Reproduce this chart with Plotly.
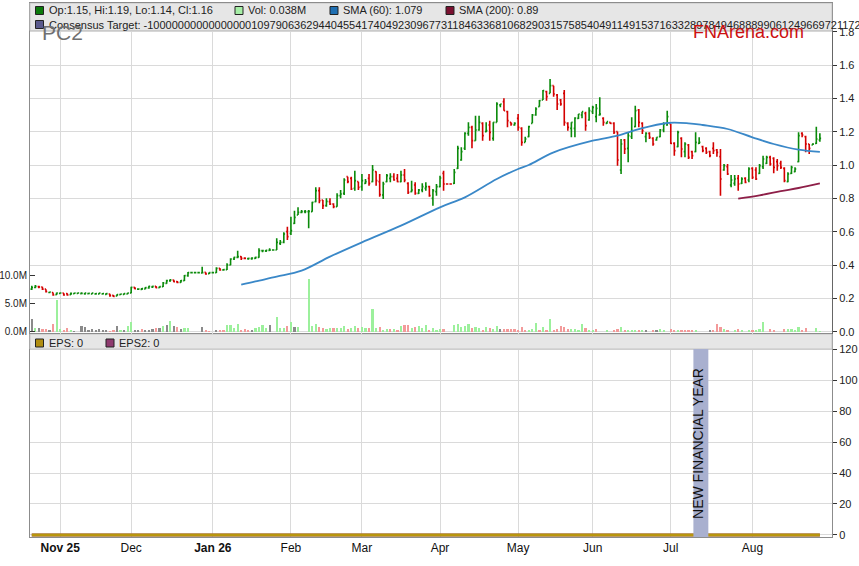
import pandas as pd
import plotly.graph_objects as go

# trading calendar shown on the chart (weekdays, holidays kept as flat bars)
dates = pd.bdate_range("2025-10-22", "2026-08-28")

opens = [
    .255, .265, .27, .268, .255, .235, .235, .222, .23, .232, .228, .222, .228, .23, .228, .228, .228, .226, .226, .226,
    .226, .224, .226, .218, .214, .222, .224, .226, .232, .266, .255, .254, .256, .262, .268, .272, .264, .27, .29, .305,
    .31, .30, .296, .306, .336, .354, .354, .354, .352, .356, .348, .354, .354, .38, .37, .372, .40, .436, .446, .45,
    .44, .438, .438, .44, .446, .486, .484, .488, .49, .49, .53, .536, .60, .59, .65, .70, .716, .72, .72, .72,
    .78, .846, .79, .756, .78, .766, .75, .816, .83, .93, .92, .86, .90, .87, .89, .92, .90, .96, .90, .82,
    .90, .92, .93, .92, .90, .94, .89, .84, .88, .83, .85, .86, .87, .80, .84, .87, .95, .886, .886, .89,
    .98, 1.03, 1.10, 1.19, 1.226, 1.146, 1.21, 1.25, 1.20, 1.24, 1.16, 1.256, 1.36, 1.38, 1.32, 1.256, 1.24, 1.28, 1.22, 1.136,
    1.17, 1.25, 1.30, 1.35, 1.39, 1.44, 1.43, 1.476, 1.42, 1.39, 1.43, 1.25, 1.22, 1.22, 1.28, 1.30, 1.31, 1.27, 1.32, 1.29,
    1.30, 1.28, 1.25, 1.256, 1.25, 1.20, .97, 1.15, 1.10, 1.17, 1.23, 1.33, 1.25, 1.17, 1.19, 1.16, 1.15, 1.17, 1.21, 1.24,
    1.246, 1.13, 1.11, 1.16, 1.08, 1.12, 1.08, 1.08, 1.13, 1.11, 1.10, 1.08, 1.10, 1.09, 1.05, .97, .99, .88, .89, .92,
    .89, .92, .91, .98, .97, .95, .99, 1.01, 1.046, 1.04, 1.02, 1.01, .98, .90, .95, .96, 1.02, 1.19, 1.17, 1.126,
    1.12, 1.13, 1.15,
]
highs = [
    .275, .28, .275, .27, .255, .24, .235, .235, .235, .232, .23, .235, .234, .234, .236, .234, .232, .234, .232, .234,
    .232, .232, .228, .22, .224, .228, .23, .234, .27, .268, .26, .262, .268, .275, .276, .274, .272, .298, .312, .316,
    .312, .304, .31, .34, .358, .356, .354, .354, .39, .356, .356, .354, .386, .382, .376, .41, .44, .45, .486, .452,
    .446, .444, .446, .45, .50, .49, .492, .50, .49, .56, .55, .596, .63, .69, .726, .746, .73, .73, .73, .78,
    .866, .866, .79, .80, .80, .77, .83, .85, .92, .93, .93, .966, .90, .946, .916, .946, 1.0, .962, .946, .90,
    .946, .95, .95, .946, .966, .976, .896, .906, .896, .856, .89, .896, .876, .856, .886, .936, .966, .886, .886, .976,
    1.116, 1.106, 1.196, 1.256, 1.236, 1.296, 1.296, 1.256, 1.256, 1.266, 1.256, 1.376, 1.366, 1.40, 1.326, 1.256, 1.256, 1.306, 1.226, 1.17,
    1.236, 1.306, 1.346, 1.39, 1.45, 1.446, 1.516, 1.476, 1.426, 1.396, 1.45, 1.256, 1.256, 1.286, 1.306, 1.32, 1.32, 1.346, 1.356, 1.366,
    1.406, 1.286, 1.26, 1.256, 1.256, 1.20, 1.156, 1.156, 1.196, 1.286, 1.356, 1.336, 1.256, 1.196, 1.196, 1.166, 1.166, 1.216, 1.256, 1.326,
    1.246, 1.136, 1.206, 1.166, 1.136, 1.126, 1.086, 1.196, 1.166, 1.116, 1.106, 1.086, 1.136, 1.096, 1.096, 1.006, 1.006, .94, .94, .94,
    .926, .926, .986, .986, .986, 1.006, 1.056, 1.056, 1.056, 1.046, 1.036, 1.026, .986, .956, .996, .986, 1.196, 1.196, 1.176, 1.126,
    1.13, 1.23, 1.19,
]
lows = [
    .25, .26, .26, .25, .235, .23, .215, .22, .228, .215, .215, .22, .226, .228, .226, .222, .226, .224, .222, .224,
    .224, .222, .21, .208, .212, .22, .222, .224, .23, .255, .25, .25, .254, .258, .262, .26, .262, .268, .288, .30,
    .296, .29, .294, .304, .33, .35, .354, .354, .352, .342, .346, .354, .352, .366, .366, .37, .398, .43, .44, .43,
    .434, .432, .432, .436, .444, .476, .478, .484, .49, .49, .52, .53, .55, .58, .646, .70, .71, .71, .62, .72,
    .776, .77, .736, .75, .76, .74, .75, .80, .82, .89, .85, .846, .85, .846, .886, .876, .896, .876, .81, .796,
    .896, .896, .906, .896, .896, .896, .826, .836, .822, .826, .836, .846, .81, .756, .816, .866, .846, .886, .886, .886,
    .976, 1.026, 1.09, 1.176, 1.10, 1.146, 1.206, 1.146, 1.196, 1.146, 1.146, 1.256, 1.346, 1.326, 1.226, 1.236, 1.236, 1.206, 1.116, 1.136,
    1.166, 1.25, 1.296, 1.35, 1.39, 1.386, 1.43, 1.41, 1.33, 1.356, 1.236, 1.206, 1.166, 1.166, 1.276, 1.28, 1.206, 1.266, 1.306, 1.256,
    1.296, 1.236, 1.246, 1.246, 1.186, .996, .946, 1.066, 1.016, 1.156, 1.226, 1.226, 1.186, 1.136, 1.156, 1.116, 1.146, 1.166, 1.196, 1.236,
    1.126, 1.056, 1.106, 1.046, 1.046, 1.036, 1.036, 1.076, 1.126, 1.076, 1.066, 1.046, 1.066, 1.05, .816, .966, .94, .866, .876, .846,
    .886, .89, .896, .916, .91, .946, .976, 1.006, .996, .95, .966, .976, .896, .896, .946, .956, 1.016, 1.166, 1.076, 1.066,
    1.12, 1.126, 1.14,
]
closes = [
    .265, .272, .268, .255, .24, .238, .22, .232, .232, .22, .22, .23, .232, .232, .23, .232, .23, .232, .228, .232,
    .228, .228, .216, .212, .222, .226, .228, .232, .266, .258, .256, .258, .264, .272, .272, .264, .27, .292, .306, .31,
    .30, .295, .306, .336, .354, .354, .354, .354, .354, .346, .354, .354, .38, .37, .372, .40, .436, .446, .45, .44,
    .44, .44, .442, .446, .486, .486, .488, .49, .49, .536, .536, .586, .57, .606, .686, .716, .72, .72, .722, .776,
    .846, .786, .756, .782, .766, .75, .816, .826, .91, .90, .856, .906, .866, .906, .90, .89, .97, .906, .822, .886,
    .936, .93, .91, .90, .94, .91, .836, .85, .83, .85, .87, .87, .816, .846, .87, .922, .886, .886, .886, .956,
    1.10, 1.08, 1.19, 1.226, 1.146, 1.21, 1.256, 1.176, 1.206, 1.196, 1.256, 1.366, 1.366, 1.326, 1.266, 1.246, 1.25, 1.226, 1.136, 1.156,
    1.23, 1.30, 1.336, 1.386, 1.446, 1.41, 1.476, 1.426, 1.366, 1.366, 1.256, 1.226, 1.256, 1.282, 1.306, 1.32, 1.236, 1.326, 1.346, 1.34,
    1.306, 1.256, 1.26, 1.25, 1.196, 1.03, 1.126, 1.096, 1.176, 1.206, 1.326, 1.256, 1.206, 1.19, 1.166, 1.126, 1.166, 1.21, 1.246, 1.29,
    1.13, 1.086, 1.196, 1.096, 1.126, 1.046, 1.056, 1.136, 1.136, 1.086, 1.076, 1.056, 1.086, 1.076, .916, .996, .946, .91, .916, .886,
    .916, .896, .976, .926, .916, .996, 1.036, 1.046, 1.006, .986, .996, .986, .906, .946, .986, .976, 1.176, 1.18, 1.126, 1.10,
    1.126, 1.156, 1.16,
]

# volume in millions
volume_m = [
    2.3, .73, .6, .48, .48, .24, 1.4, 5.75, .48, .18, .73, .3, .12, 0, 1.1, .9, .36, .42, .24, .48,
    .18, .36, .12, .18, 1.1, .3, .36, 1.1, 1.7, .3, .36, .48, .3, .36, .48, .6, .6, .97, 1.2, 1.95,
    1.1, .85, .48, .73, .73, 0, 0, 0, .8, .24, .12, 0, .24, .24, .36, 1.2, 1.2, .73, 1.4, .36,
    .42, .3, .3, .6, .8, 1.2, .6, 1.2, 0, 2.55, .6, .6, 1.1, 1.8, .9, .85, 0, 0, 9.4, 1.0,
    1.4, .9, .73, .42, .6, .73, .6, .6, 1.0, .48, .6, 1.1, .6, .85, .6, .73, 4.0, .6, .85, .36,
    .42, .42, .42, .36, 1.1, 1.2, 1.2, .6, .9, 1.1, .6, 1.15, .36, .6, .24, .42, .42, 0, 0, 1.15,
    1.45, .85, 1.0, 1.33, .73, .85, .6, .24, .85, .6, .42, 1.0, .42, .42, .42, .42, .42, .24, .85, .24,
    .24, .42, 1.5, .3, .85, .24, 2.25, .24, .42, .97, .85, .42, .42, .42, .24, 1.33, .6, .24, .24, .42,
    0, 0, .24, 0, .24, .42, .8, .24, .24, .24, .24, .24, .24, .24, 0, .24, .24, .42, .24, 0,
    .42, .24, .24, .24, .24, .24, .24, .24, 0, 0, 0, .24, .24, 1.33, .85, .42, .24, 0, .24, .42,
    .24, 0, .24, .24, .24, .42, 1.65, 0, .42, .24, 0, 0, .42, .42, .42, .24, .9, .24, .6, 0,
    0, .6, .038,
]
# volume bar direction per day: u = up, d = down, n = unchanged
volume_dir_rows = [
    "n u n d d n d u u d d u n n n n n n n n",
    "n n d d n u n u u n n d n n n d n u n u",
    "n d n u u n n n n d d n n d d u u u u d",
    "d d n u u u u n n u u u d u n u n n u u",
    "u d d u u d u u u d u u d u u d u u d u",
    "u d u d u d d u d u u u d u u u d n n u",
    "u u u u d u u d u d u u n d d d d d d d",
    "u u u d u d u d d d d d u u u u d u u d",
    "n n u n d d u d u u u d u n n d n u u n",
    "d d u d d d d u n n n n d d d u d n u d",
    "u n u d u u u n d d n n d u u u u d d n",
    "n u u",
]
volume_dir = "".join(volume_dir_rows).replace(" ", "")

sma60_dates = ["2026-01-13", "2026-01-19", "2026-01-27", "2026-02-05", "2026-02-17", "2026-03-02",
               "2026-03-17", "2026-04-01", "2026-04-10", "2026-04-23", "2026-05-01", "2026-05-06",
               "2026-05-15", "2026-06-01", "2026-06-10", "2026-06-18", "2026-06-30", "2026-07-08",
               "2026-07-14", "2026-07-23", "2026-08-03", "2026-08-11", "2026-08-20", "2026-08-28"]
sma60_vals = [0.282, 0.302, 0.33, 0.366, 0.45, 0.536, 0.636, 0.746, 0.806, 0.916, 0.976, 1.0,
              1.076, 1.146, 1.176, 1.215, 1.252, 1.25, 1.24, 1.216, 1.166, 1.126, 1.092, 1.079]

sma200_dates = ["2026-07-28", "2026-08-05", "2026-08-13", "2026-08-20", "2026-08-28"]
sma200_vals = [0.798, 0.818, 0.843, 0.862, 0.89]

eps_dates = ["2025-10-22", "2026-08-28"]
eps_vals = [0, 0]
eps2_vals = [0, 0]

month_ticks = ["2025-11-03", "2025-12-01", "2026-01-01", "2026-02-02", "2026-03-02",
               "2026-04-01", "2026-05-01", "2026-06-01", "2026-07-01", "2026-08-03"]
month_labels = ["<b>Nov 25</b>", "Dec", "<b>Jan 26</b>", "Feb", "Mar", "Apr", "May", "Jun", "Jul", "Aug"]

consensus = ("-10000000000000000109790636294404554174049230967731184633681068290315758540491149153716"
             "33289784946888990612496697211721172117211723")

# ---- layout geometry (pixels of the 859x566 page) ----
W, H = 859, 566
L, R, T, B = 30, 832, 3, 537


def px(x):
    return (x - L) / (R - L)


def py(y):
    return (B - y) / (B - T)


split = py(334)

vol_colors = {"u": "#9cf09c", "d": "#f39a9a", "n": "#8a8a8a"}
bar_colors = [vol_colors[c] for c in volume_dir]

fig = go.Figure()

fig.add_trace(go.Bar(
    x=dates, y=volume_m,
    marker=dict(color=bar_colors, line_width=0),
    width=0.62 * 86400000,
    xaxis="x2", yaxis="y",
))

fig.add_trace(go.Ohlc(
    x=dates, open=opens, high=highs, low=lows, close=closes,
    increasing_line_color="#0a8a0a", decreasing_line_color="#d40000",
    line_width=1.6, tickwidth=0.35,
    xaxis="x2", yaxis="y2",
))

fig.add_trace(go.Scatter(
    x=sma60_dates, y=sma60_vals, mode="lines",
    line=dict(color="#3a88c8", width=1.8, shape="spline"),
    xaxis="x2", yaxis="y2",
))
fig.add_trace(go.Scatter(
    x=sma200_dates, y=sma200_vals, mode="lines",
    line=dict(color="#8e1f48", width=1.8, shape="spline"),
    xaxis="x2", yaxis="y2",
))

fig.add_trace(go.Scatter(
    x=eps_dates, y=eps2_vals, mode="lines",
    line=dict(color="#8e3a6e", width=3),
    xaxis="x", yaxis="y3",
))
fig.add_trace(go.Scatter(
    x=eps_dates, y=eps_vals, mode="lines",
    line=dict(color="#b8960c", width=3),
    xaxis="x", yaxis="y3",
))

grid = "#dadada"
frame = "#8c8c8c"
tickfont = dict(family="Liberation Sans, Arial, sans-serif", size=11, color="#222222")
xrange = ["2025-10-21 12:00", "2026-09-02 10:00"]
breaks = [dict(bounds=["sat", "mon"])]

fig.update_layout(
    width=W, height=H,
    margin=dict(l=L, r=W - R, t=T, b=H - B, autoexpand=False),
    paper_bgcolor="white", plot_bgcolor="white",
    showlegend=False,
    bargap=0,
    xaxis=dict(
        domain=[0, 1], anchor="y3", type="date", range=xrange, rangebreaks=breaks,
        tickmode="array", tickvals=month_ticks, ticktext=month_labels,
        tickfont=dict(family="Liberation Sans Narrow, Arial Narrow, Liberation Sans, sans-serif",
                      size=12, color="#111111"),
        showgrid=True, gridcolor=grid, gridwidth=1, ticks="",
        showline=True, mirror=True, linecolor=frame, linewidth=1,
        rangeslider=dict(visible=False), zeroline=False, automargin=False,
    ),
    xaxis2=dict(
        domain=[0, 1], anchor="y", type="date", matches="x", range=xrange, rangebreaks=breaks,
        tickmode="array", tickvals=month_ticks, showticklabels=False,
        showgrid=True, gridcolor=grid, gridwidth=1, ticks="",
        showline=True, mirror=True, linecolor=frame, linewidth=1,
        rangeslider=dict(visible=False), zeroline=False, automargin=False,
    ),
    yaxis=dict(
        domain=[split, 1], anchor="x2", side="left",
        range=[-0.41, 58.7], tickmode="array", tickvals=[0, 5, 10],
        ticktext=["0.0M", "5.0M", "10.0M"],
        tickfont=dict(family="Liberation Sans, Arial, sans-serif", size=10, color="#222222"),
        ticks="inside", ticklen=5, tickcolor="#333333",
        showgrid=False, zeroline=False, showline=True, linecolor=frame, automargin=False,
    ),
    yaxis2=dict(
        overlaying="y", anchor="x2", side="right",
        range=[-0.014, 1.972], tickmode="array",
        tickvals=[0, 0.2, 0.4, 0.6, 0.8, 1.0, 1.2, 1.4, 1.6, 1.8],
        ticktext=["0.0", "0.2", "0.4", "0.6", "0.8", "1.0", "1.2", "1.4", "1.6", "1.8"],
        tickfont=tickfont, ticks="outside", ticklen=4, tickcolor="#333333",
        showgrid=True, gridcolor=grid, gridwidth=1, zeroline=False,
        showline=True, linecolor="#666666", automargin=False,
    ),
    yaxis3=dict(
        domain=[0, split], anchor="x", side="right",
        range=[-1.3, 129.7], tickmode="array", tickvals=[0, 20, 40, 60, 80, 100, 120],
        tickfont=tickfont, ticks="outside", ticklen=4, tickcolor="#333333",
        showgrid=True, gridcolor=grid, gridwidth=1, zeroline=False,
        showline=True, mirror=True, linecolor=frame, automargin=False,
    ),
)

shapes = [
    # header strips of both panels
    dict(type="rect", xref="x2 domain", x0=0, x1=1, yref="y2", y0=1.806, y1=1.972,
         fillcolor="#e6e6e6", line=dict(color="#c4c4c4", width=1), layer="above"),
    dict(type="rect", xref="x domain", x0=0, x1=1, yref="y3", y0=120, y1=129.7,
         fillcolor="#e6e6e6", line=dict(color="#c4c4c4", width=1), layer="above"),
    # financial year marker
    dict(type="rect", xref="x", x0="2026-07-09 09:00", x1="2026-07-15 14:00",
         yref="y3", y0=-1.3, y1=120, fillcolor="#a9b0cf", line_width=0, layer="above"),
]

annotations = []


def legend_item(x, y, color, text):
    shapes.append(dict(type="rect", xref="paper", yref="paper",
                       x0=px(x), x1=px(x + 8), y0=py(y - 4), y1=py(y + 4),
                       fillcolor=color, line=dict(color="#222222", width=1), layer="above"))
    annotations.append(dict(xref="paper", yref="paper", x=px(x + 11), y=py(y),
                            xanchor="left", yanchor="middle", showarrow=False,
                            text=text, font=tickfont))


legend_item(35.5, 10.5, "#0b7a0b", "Op:1.15, Hi:1.19, Lo:1.14, Cl:1.16")
legend_item(235, 10.5, "#a6eea6", "Vol: 0.038M")
legend_item(330, 10.5, "#1f6fb2", "SMA (60): 1.079")
legend_item(446, 10.5, "#7a1030", "SMA (200): 0.89")
legend_item(35.5, 24.5, "#5a5a8c", "Consensus Target: " + consensus)
legend_item(35.5, 343, "#b08d10", "EPS: 0")
legend_item(106, 343, "#8e3a6e", "EPS2: 0")

annotations += [
    dict(xref="paper", yref="paper", x=px(40), y=py(32.5), xanchor="left", yanchor="middle",
         showarrow=False, text="PC2",
         font=dict(family="Liberation Sans, Arial, sans-serif", size=21, color="#707070")),
    dict(xref="paper", yref="paper", x=px(691), y=py(32.5), xanchor="left", yanchor="middle",
         showarrow=False, text="FNArena.com",
         font=dict(family="Liberation Sans, Arial, sans-serif", size=18, color="#cc1111")),
    dict(xref="x", yref="y3", x="2026-07-12 12:00", y=59, textangle=-90,
         showarrow=False, text="NEW FINANCIAL YEAR",
         font=dict(family="Liberation Sans, Arial, sans-serif", size=14, color="#111111")),
]

fig.update_layout(shapes=shapes, annotations=annotations)

fig.write_html("out.html", config={"displayModeBar": False},
               post_script="document.body.style.margin = '0';")
